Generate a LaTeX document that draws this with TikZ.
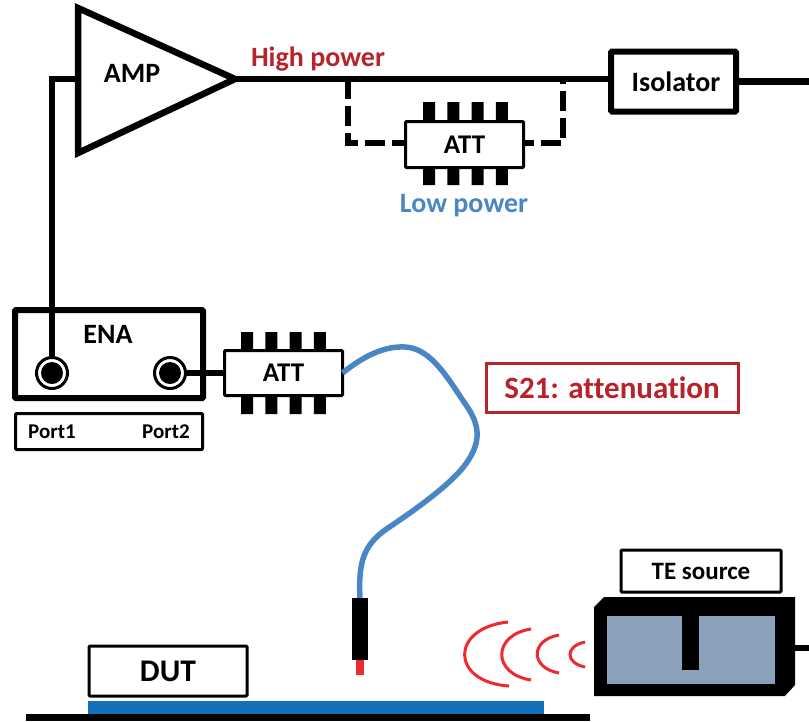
\documentclass[tikz,border=0pt]{standalone}
\usepackage{fontspec}
\setmainfont{Carlito}[Ligatures=NoCommon]
\usetikzlibrary{arrows}
\definecolor{hipow}{HTML}{B8232B}
\definecolor{lopow}{HTML}{4A86C5}
\definecolor{dutblue}{HTML}{1470B8}
\definecolor{cavity}{HTML}{8BA0BB}
\definecolor{wavered}{HTML}{EE2A2E}
\tikzstyle{block}=[rectangle, draw, fill=white, inner sep=0pt, outer sep=0pt, line width=3pt, rounded corners=1pt, font=\bfseries\fontsize{27}{27}\selectfont]
\tikzstyle{tag}=[inner sep=0pt, outer sep=0pt, font=\bfseries\fontsize{28}{28}\selectfont]
\tikzstyle{wire}=[line width=6.5pt]
\tikzstyle{bypass}=[line width=6pt, dash pattern=on 20pt off 7pt]
\tikzstyle{cable}=[line width=5.5pt, color=lopow]
\tikzstyle{wave}=[line width=3pt, color=wavered]
\tikzstyle{portring}=[circle, draw, fill=white, inner sep=0pt, line width=3pt, minimum size=31pt]
\tikzstyle{portcore}=[circle, fill=black, inner sep=0pt, minimum size=22pt]
\newcommand{\block}{\node[block]}
\newcommand{\tag}{\node[tag]}
% legs of an attenuator: left edge of first leg, top row, bottom row
\newcommand{\legs}[3]{
  \foreach \k in {0,1,2,3}
    \fill ({#1+24.3*\k},#2) rectangle ({#1+12+24.3*\k},#2+18)
          ({#1+24.3*\k},#3) rectangle ({#1+12+24.3*\k},#3+18);
}

\begin{document}
\begin{tikzpicture}[x=1pt, y=-1pt]
\useasboundingbox (0,0) rectangle (809,721);
% ground, DUT
\fill (26,714) rectangle (590,721);
\fill[dutblue] (88,701) rectangle (544,714);
\block[minimum width=158pt, minimum height=50pt, font=\bfseries\fontsize{31.5}{31.5}\selectfont] (dut) at (168,671) {DUT};
% amplifier
\coordinate (ampa) at (78,8);
\coordinate (ampb) at (78,153);
\coordinate (ampt) at (235,79);
\coordinate (ampi) at (78,79);
\coordinate (tapa) at (348,79);
\coordinate (tapb) at (563,79);
\coordinate (outa) at (809,81.5);
\coordinate (outb) at (809,648);
\draw[line width=6.5pt, line join=miter] (ampa) -- (ampt) -- (ampb) -- cycle;
\tag (amplab) at (132,73) {AMP};
% attenuators
\legs{423}{102}{167}
\legs{241}{332}{396}
\draw[bypass] (tapa) |- (405,143);
\draw[bypass, dash phase=10pt] (524,143) -| (tapb);
\block[minimum width=118pt, minimum height=46pt] (atta) at (464.5,144.5) {ATT};
\block[minimum width=118pt, minimum height=45pt] (attb) at (283.5,373) {ATT};
% isolator
\block[line width=6pt, minimum width=125pt, minimum height=60pt, font=\bfseries\fontsize{28}{28}\selectfont] (iso) at (673.5,81.5) {\hspace*{5pt}Isolator};
\draw[wire] (ampt) -- (iso.west |- ampt);
\draw[wire] (iso.east) -- (outa);
% ENA
\block[line width=6pt, minimum width=188pt, minimum height=88pt, anchor=north west] (ena) at (15,310) {};
\tag (enalab) at (108,334) {ENA};
\block[minimum width=187pt, minimum height=36pt, anchor=north west] (ports) at (15.5,413.5) {};
\tag[font=\bfseries\fontsize{21}{21}\selectfont] (porttxa) at (52,432) {Port1};
\tag[font=\bfseries\fontsize{21}{21}\selectfont] (porttxb) at (166,432) {Port2};
\node[portring] (porta) at (52,373) {};
\node[portring] (portb) at (170,373) {};
\node[portcore] (corea) at (porta) {};
\node[portcore] (coreb) at (portb) {};
\draw[wire] (ampi) -| (porta);
\draw[wire] (portb) -- (attb.west);
% cable, probe
\node[fill=black, inner sep=0pt, minimum width=16pt, minimum height=62pt] (probe) at (360,629) {};
\node[fill=wavered, inner sep=0pt, minimum width=8pt, minimum height=15pt, anchor=north] (tip) at (probe.south) {};
\draw[cable] (attb.east) .. controls (365,355) and (385,346) .. (405,347)
  .. controls (432,348) and (450,382) .. (466,405)
  .. controls (480,425) and (482,442) .. (465,465)
  .. controls (450,485) and (415,510) .. (385,530)
  .. controls (365,545) and (358,560) .. (probe.north);
% labels
\tag[text=hipow] (high) at (318,59.5) {High power};
\tag[text=lopow] (low) at (464,206) {Low power};
\block[draw=hipow, rounded corners=0pt, minimum width=252pt, minimum height=49pt, text=hipow, font=\bfseries\fontsize{31}{31}\selectfont] (s21) at (612,388) {S21: attenuation};
% TE source
\block[minimum width=160pt, minimum height=42pt, font=\bfseries\fontsize{25}{25}\selectfont] (te) at (701,571) {TE source};
\fill (594,607) -- (604,597) -- (795,597) -- (795,685) -- (785,696) -- (594,696) -- cycle;
\fill[cavity] (607,616) rectangle (775,684);
\fill (682,616) rectangle (699,670);
\coordinate (srce) at (795,648);
\draw[wire] (srce) -- (outb);
% waves
\draw[wave] (508,622) .. controls (450,628) and (450,682) .. (509,686);
\draw[wave] (531,629) .. controls (492,635) and (492,674) .. (531,680);
\draw[wave] (559,635) .. controls (530,640) and (530,668) .. (559,673);
\draw[wave] (585,642) .. controls (565,646) and (565,663) .. (585,667);
\end{tikzpicture}
\end{document}
